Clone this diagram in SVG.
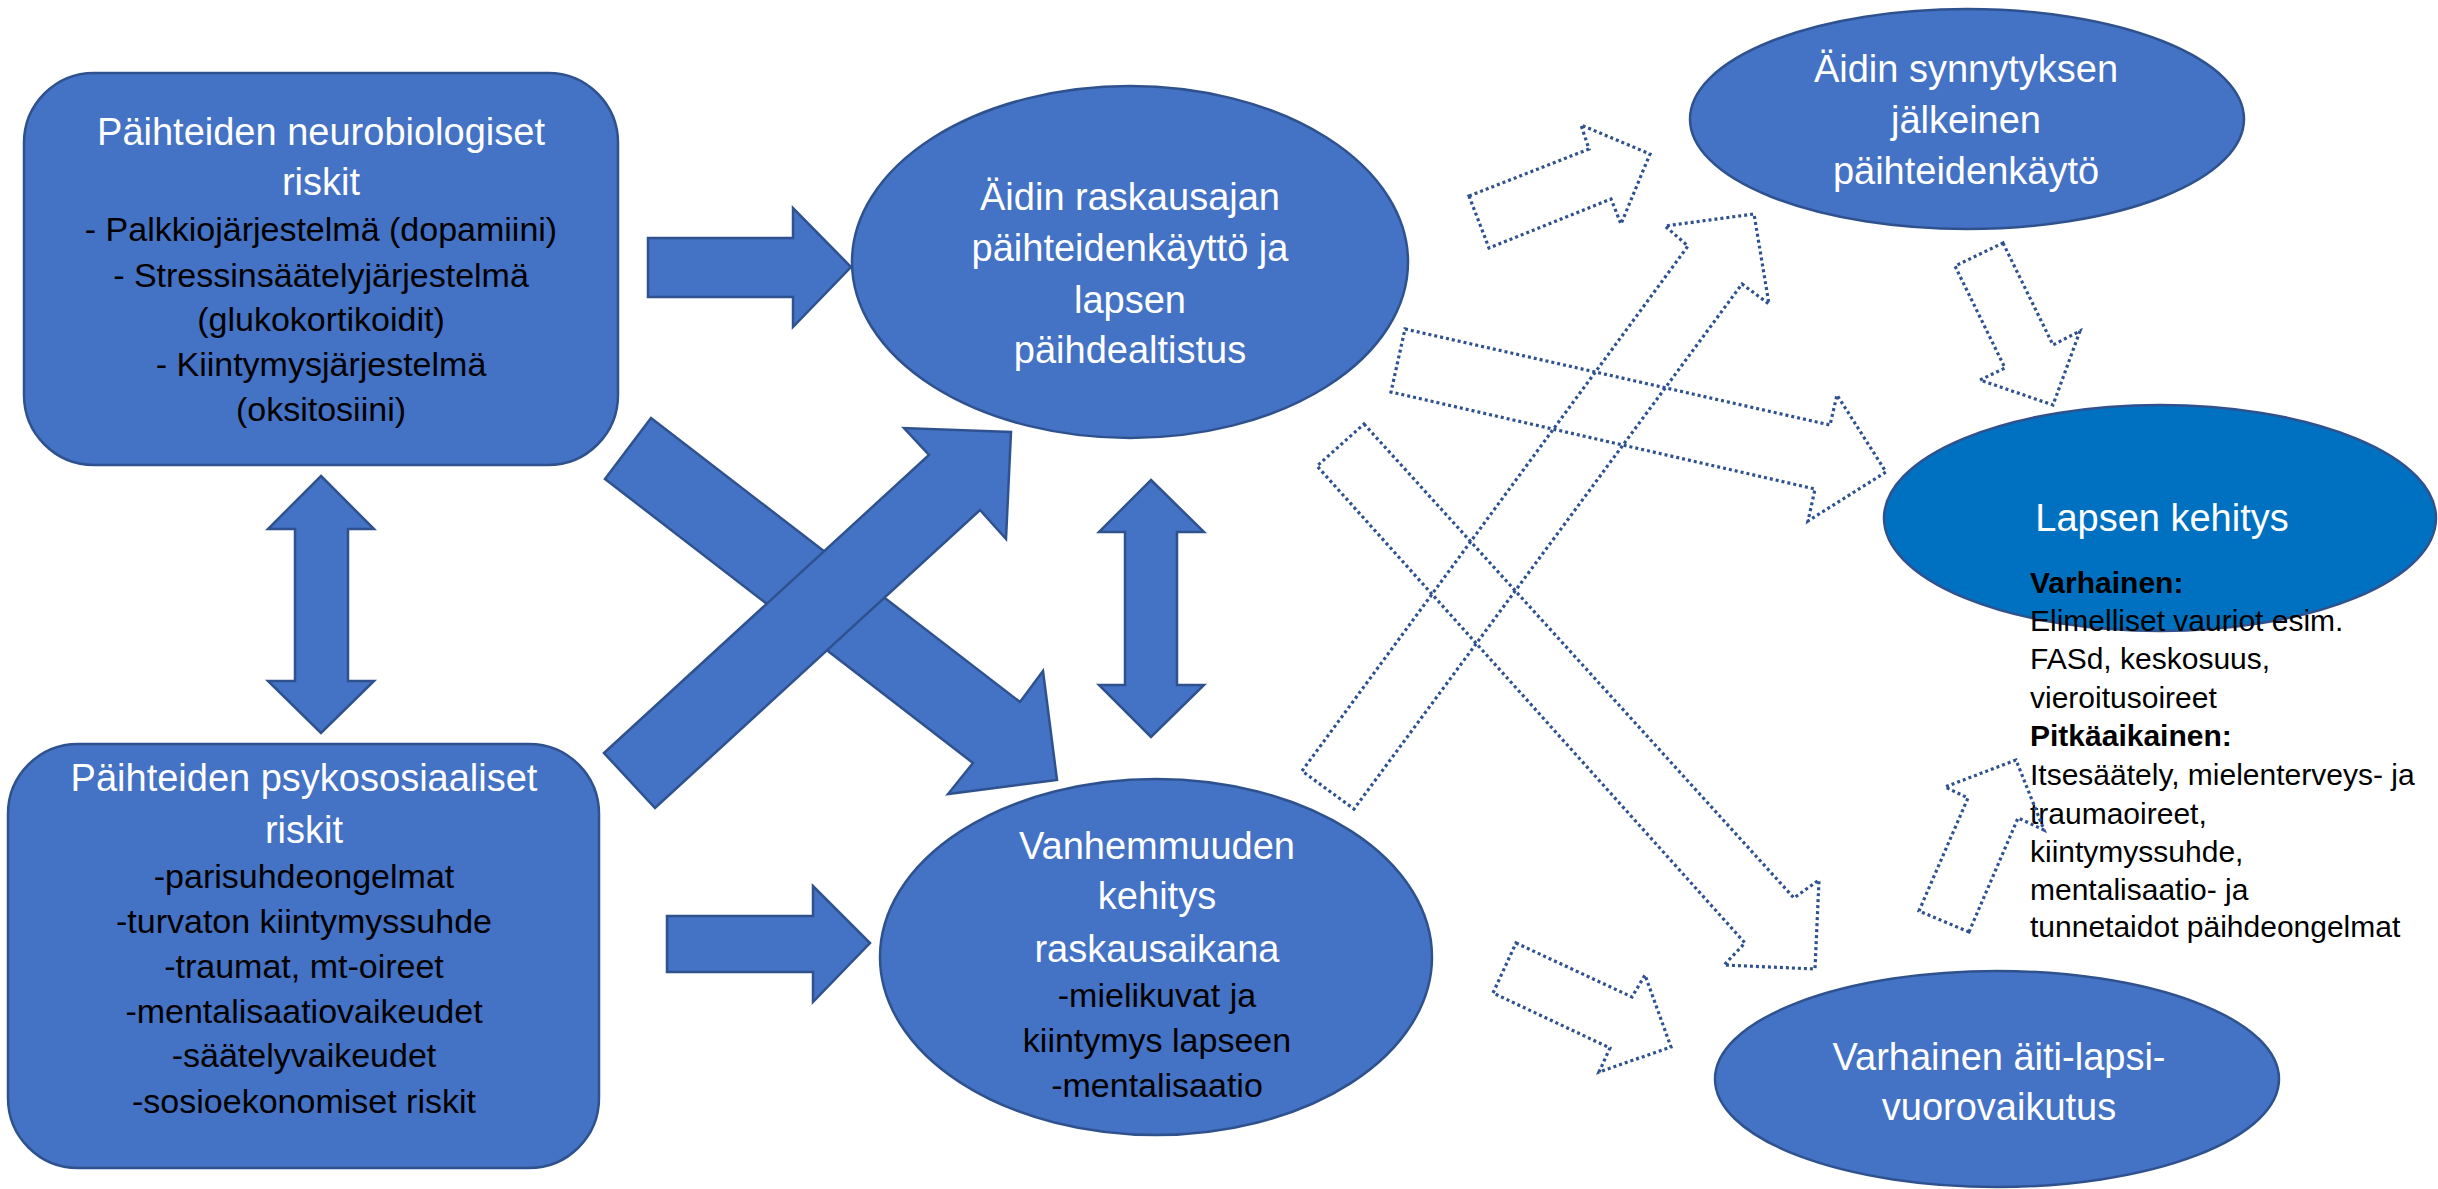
<svg xmlns="http://www.w3.org/2000/svg" width="2438" height="1189" viewBox="0 0 2438 1189">
<defs>
<style>
.shape{fill:#4472C4;stroke:#2F528F;stroke-width:2.5}
.child{fill:#0070C0;stroke:#2F528F;stroke-width:2.5}
.dot{fill:none;stroke:#2F528F;stroke-width:3.2;stroke-dasharray:3 3}
text{font-family:"Liberation Sans",Arial,sans-serif}
.c{text-anchor:middle}
.w{fill:#FFFFFF;font-size:38px}
.b{fill:#000000;font-size:34px}
.d{fill:#000000;font-size:30px}
.bold{font-weight:bold}
</style>
</defs>
<rect width="2438" height="1189" fill="#FFFFFF"/>

<g id="n-neuro">
<rect class="shape" x="24" y="73" width="594" height="392" rx="70" ry="70"/>
<text class="c w" x="321" y="145">Päihteiden neurobiologiset</text>
<text class="c w" x="321" y="195">riskit</text>
<text class="c b" x="321" y="241">- Palkkiojärjestelmä (dopamiini)</text>
<text class="c b" x="321" y="287">- Stressinsäätelyjärjestelmä</text>
<text class="c b" x="321" y="331">(glukokortikoidit)</text>
<text class="c b" x="321" y="376">- Kiintymysjärjestelmä</text>
<text class="c b" x="321" y="421">(oksitosiini)</text>
</g>

<g id="n-psyko">
<rect class="shape" x="8" y="744" width="591" height="424" rx="70" ry="70"/>
<text class="c w" x="304" y="791">Päihteiden psykososiaaliset</text>
<text class="c w" x="304" y="843">riskit</text>
<text class="c b" x="304" y="888">-parisuhdeongelmat</text>
<text class="c b" x="304" y="933">-turvaton kiintymyssuhde</text>
<text class="c b" x="304" y="978">-traumat, mt-oireet</text>
<text class="c b" x="304" y="1023">-mentalisaatiovaikeudet</text>
<text class="c b" x="304" y="1067">-säätelyvaikeudet</text>
<text class="c b" x="304" y="1113">-sosioekonomiset riskit</text>
</g>

<g id="n-raskaus">
<ellipse class="shape" cx="1130" cy="262" rx="278" ry="176"/>
<text class="c w" x="1130" y="210">Äidin raskausajan</text>
<text class="c w" x="1130" y="261">päihteidenkäyttö ja</text>
<text class="c w" x="1130" y="313">lapsen</text>
<text class="c w" x="1130" y="363">päihdealtistus</text>
</g>

<g id="n-vanhemmuus">
<ellipse class="shape" cx="1156" cy="957" rx="276" ry="178"/>
<text class="c w" x="1157" y="859">Vanhemmuuden</text>
<text class="c w" x="1157" y="909">kehitys</text>
<text class="c w" x="1157" y="962">raskausaikana</text>
<text class="c b" x="1157" y="1007">-mielikuvat ja</text>
<text class="c b" x="1157" y="1052">kiintymys lapseen</text>
<text class="c b" x="1157" y="1097">-mentalisaatio</text>
</g>

<g id="n-synnytys">
<ellipse class="shape" cx="1967" cy="119" rx="277" ry="110"/>
<text class="c w" x="1966" y="82">Äidin synnytyksen</text>
<text class="c w" x="1966" y="133">jälkeinen</text>
<text class="c w" x="1966" y="184">päihteidenkäytö</text>
</g>

<g id="n-lapsi">
<ellipse class="child" cx="2160" cy="518" rx="276" ry="113"/>
<text class="c w" x="2162" y="531">Lapsen kehitys</text>
<text class="d bold" x="2030" y="593">Varhainen:</text>
<text class="d" x="2030" y="631">Elimelliset vauriot esim.</text>
<text class="d" x="2030" y="669">FASd, keskosuus,</text>
<text class="d" x="2030" y="708">vieroitusoireet</text>
<text class="d bold" x="2030" y="746">Pitkäaikainen:</text>
<text class="d" x="2030" y="785">Itsesäätely, mielenterveys- ja</text>
<text class="d" x="2030" y="824">traumaoireet,</text>
<text class="d" x="2030" y="862">kiintymyssuhde,</text>
<text class="d" x="2030" y="900">mentalisaatio- ja</text>
<text class="d" x="2030" y="937">tunnetaidot päihdeongelmat</text>
</g>

<g id="n-vuorovaikutus">
<ellipse class="shape" cx="1997" cy="1079" rx="282" ry="108"/>
<text class="c w" x="1999" y="1070">Varhainen äiti-lapsi-</text>
<text class="c w" x="1999" y="1120">vuorovaikutus</text>
</g>

<g id="connectors">
<path class="shape" d="M648,238 L793,238 L793,208 L851,267 L793,327 L793,297 L648,297 Z"/>
<path class="shape" d="M667,916 L813,916 L813,886 L870,943 L813,1002 L813,972 L667,972 Z"/>
<path class="shape" d="M321,476 L374,529 L348,529 L348,681 L374,681 L321,733 L268,681 L295,681 L295,529 L268,529 Z"/>
<path class="shape" d="M1151,480 L1204,532 L1177,532 L1177,685 L1204,685 L1151,737 L1099,685 L1125,685 L1125,532 L1099,532 Z"/>
<path class="shape" d="M651,418 L1020,702 L1043,671 L1057,780 L948,794 L973,763 L605,479 Z"/>
<path class="shape" d="M604,753 L929,455 L904,428 L1011,432 L1006,539 L980,510 L655,808 Z"/>
<path class="dot" d="M1469,196 L1589,149 L1581,125 L1650,154 L1621,224 L1611,199 L1489,248 Z"/>
<path class="dot" d="M1405,329 L1830,425 L1837,395 L1886,472 L1808,521 L1815,489 L1391,392 Z"/>
<path class="dot" d="M1302,771 L1688,246 L1665,226 L1754,214 L1769,304 L1742,284 L1354,809 Z"/>
<path class="dot" d="M1364,424 L1794,898 L1819,880 L1815,969 L1724,965 L1745,943 L1317,466 Z"/>
<path class="dot" d="M2003,243 L2053,345 L2080,331 L2053,405 L1980,380 L2005,368 L1955,266 Z"/>
<path class="dot" d="M1516,943 L1632,997 L1645,975 L1671,1047 L1599,1072 L1610,1048 L1493,993 Z"/>
<path class="dot" d="M1969,932 L2018,818 L2044,830 L2016,760 L1945,787 L1968,798 L1919,911 Z"/>
</g>
</svg>
